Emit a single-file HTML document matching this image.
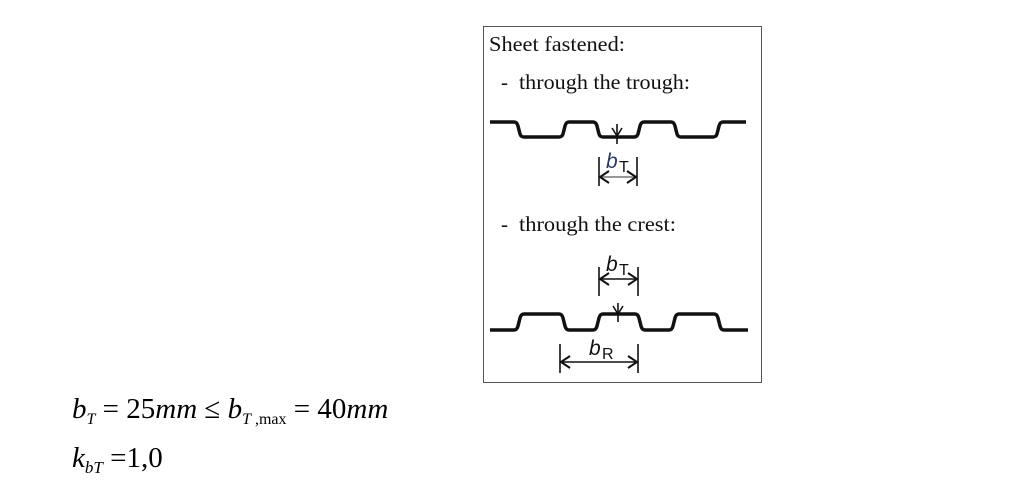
<!DOCTYPE html>
<html><head><meta charset="utf-8"><style>
html,body{margin:0;padding:0;background:#fff;}
svg{display:block;}
</style></head><body>
<svg width="1023" height="495" viewBox="0 0 1023 495" xmlns="http://www.w3.org/2000/svg">
<rect x="483.5" y="26.5" width="278" height="356" fill="none" stroke="#555" stroke-width="1"/>
<g font-family="Liberation Serif, serif" font-size="21" fill="#111">
<text x="489" y="51" textLength="136" lengthAdjust="spacingAndGlyphs">Sheet fastened:</text>
<text x="501" y="89">-</text>
<text x="519" y="89" textLength="171" lengthAdjust="spacingAndGlyphs">through the trough:</text>
<text x="501" y="231">-</text>
<text x="519" y="231" textLength="157" lengthAdjust="spacingAndGlyphs">through the crest:</text>
</g>
<g fill="none" stroke="#111" stroke-width="3.5" stroke-linejoin="round">
<path d="M490 122 H514 Q517 122 518 126 L520 134 Q521 137 524 137 H559 Q562 137 563 134 L565 126 Q566 122 569 122 H593 Q596 122 597 126 L599 134 Q600 137 603 137 H634 Q637 137 638 134 L640 126 Q641 122 644 122 H671 Q674 122 675 126 L677 134 Q678 137 681 137 H713 Q716 137 717 134 L719 126 Q720 122 723 122 H746"/>
<path d="M490 330 H514 Q517 330 518 326 L520 318 Q521 314 524 314 H559 Q562 314 563 318 L565 326 Q566 330 569 330 H593 Q596 330 597 326 L599 318 Q600 314 603 314 H635 Q638 314 639 318 L641 326 Q642 330 645 330 H669 Q672 330 673 326 L675 318 Q676 314 679 314 H714 Q717 314 718 318 L720 326 Q721 330 724 330 H748"/>
</g>
<g stroke="#111" stroke-width="1.6" fill="none">
<line x1="617" y1="124" x2="617" y2="144"/><line x1="612" y1="128" x2="617" y2="136"/><line x1="622" y1="128" x2="617" y2="136"/>
<line x1="618" y1="303" x2="618" y2="322"/><line x1="613" y1="306" x2="618" y2="314"/><line x1="623" y1="306" x2="618" y2="314"/>
<line x1="599" y1="157" x2="599" y2="186"/><line x1="637" y1="157" x2="637" y2="186"/>
<line x1="600" y1="177" x2="636" y2="177" stroke="#777"/>
<path d="M609 171 L600 177 L609 183 M627 171 L636 177 L627 183" stroke-width="2"/>
<line x1="599" y1="267" x2="599" y2="296"/><line x1="638" y1="267" x2="638" y2="296"/>
<line x1="600" y1="279" x2="637" y2="279"/>
<path d="M609 273 L600 279 L609 285 M628 273 L637 279 L628 285" stroke-width="2"/>
<line x1="560" y1="344" x2="560" y2="373"/><line x1="638" y1="344" x2="638" y2="373"/>
<line x1="561" y1="362" x2="637" y2="362"/>
<path d="M570 356 L561 362 L570 368 M628 356 L637 362 L628 368" stroke-width="2"/>
</g>
<g font-family="Liberation Sans, sans-serif" fill="#111">
<text x="606" y="168" font-size="21" font-style="italic" fill="#2a3a6a">b</text><text x="619" y="172" font-size="16">T</text>
<text x="606" y="271" font-size="21" font-style="italic">b</text><text x="619" y="275" font-size="16">T</text>
<text x="589" y="355" font-size="21" font-style="italic">b</text><text x="602" y="359" font-size="16">R</text>
</g>
<g font-family="Liberation Serif, serif" fill="#000" font-size="29">
<text x="72" y="418"><tspan font-style="italic">b</tspan><tspan font-size="16" font-style="italic" dy="6">T</tspan><tspan dy="-6"> = 25</tspan><tspan font-style="italic">mm</tspan><tspan> ≤ </tspan><tspan font-style="italic">b</tspan><tspan font-size="16" dy="6"><tspan font-style="italic">T</tspan> ,max</tspan><tspan dy="-6"> = 40</tspan><tspan font-style="italic">mm</tspan></text>
<text x="72" y="467"><tspan font-style="italic">k</tspan><tspan font-size="17" font-style="italic" dy="6">bT</tspan><tspan dy="-6"> =1,0</tspan></text>
</g>
</svg>
</body></html>
